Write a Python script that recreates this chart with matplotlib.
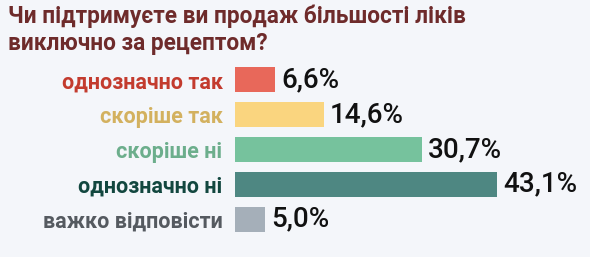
import matplotlib
matplotlib.use('Agg')
import matplotlib.pyplot as plt

# survey answers
categories = ['однозначно так', 'скоріше так', 'скоріше ні', 'однозначно ні', 'важко відповісти']
values = [6.6, 14.6, 30.7, 43.1, 5.0]
value_labels = ['6,6%', '14,6%', '30,7%', '43,1%', '5,0%']
bar_colors = ['#E8685A', '#FAD57F', '#76C29D', '#4E8782', '#A5AFB9']
label_colors = ['#C33B2E', '#D3B15F', '#6CAE8C', '#12473F', '#555A60']
title = 'Чи підтримуєте ви продаж більшості ліків\nвиключно за рецептом?'

plt.rcParams['font.family'] = ['Roboto', 'DejaVu Sans']
bg = '#F4F6FA'

fig = plt.figure(figsize=(5.9, 2.57), dpi=100, facecolor=bg)
ax = fig.add_axes([235 / 590, 0.0798, 355 / 590, 0.677])
ax.set_facecolor(bg)

ypos = list(range(len(categories)))
ax.barh(ypos, values, height=0.72, color=bar_colors)
ax.set_xlim(0, 355 / 6.08)
ax.set_ylim(4.5, -0.5)

ax.set_yticks(ypos)
ax.set_yticklabels(categories, fontsize=15.5, fontweight='bold')
for lab, c in zip(ax.get_yticklabels(), label_colors):
    lab.set_color(c)
ax.tick_params(axis='y', length=0, pad=9)
ax.set_xticks([])
for s in ax.spines.values():
    s.set_visible(False)

for y, v, t in zip(ypos, values, value_labels):
    ax.annotate(t, (v, y), xytext=(4.5, 0), textcoords='offset points',
                ha='left', va='center', fontsize=20, fontweight='medium', color='#111111')

fig.text(8 / 590, 1 - 4 / 257, title, ha='left', va='top', fontsize=16.3,
         fontweight='bold', color='#6E2B2B', linespacing=1.25)

fig.savefig('out.png', dpi=100, facecolor=bg)
